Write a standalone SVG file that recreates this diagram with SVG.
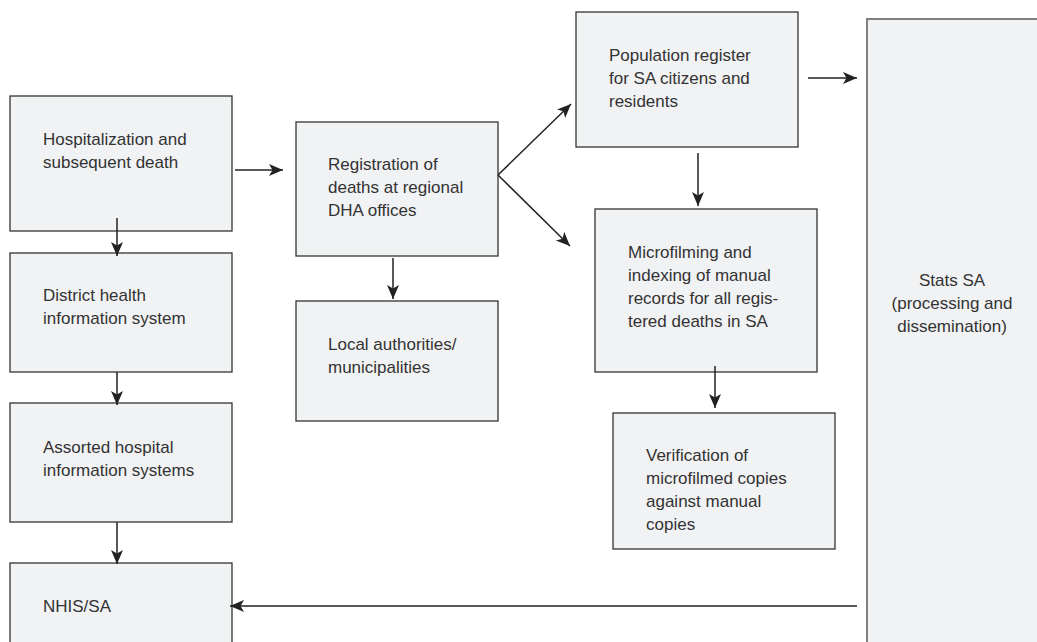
<svg xmlns="http://www.w3.org/2000/svg" width="1037" height="642" viewBox="0 0 1037 642">
<style>
.box{fill:#f1f2f4;stroke:#333;stroke-width:1.3}
.stats{fill:#f1f2f4;stroke:#808080;stroke-width:2}
.t{font-family:"Liberation Sans",Arial,sans-serif;font-size:17px;fill:#333}
.c{fill:none;stroke:#222;stroke-width:1.5}
</style>
<defs>
<marker id="ah" markerUnits="userSpaceOnUse" markerWidth="16" markerHeight="13" refX="14" refY="6" orient="auto">
<path d="M0,0 L14,6 L0,12 L3.5,6 Z" fill="#222"/>
</marker>
</defs>
<rect width="1037" height="642" fill="#fff"/>
<g id="hosp"><rect class="box" x="10" y="96" width="222" height="135"/>
<text class="t" x="43" y="145">Hospitalization and</text><text class="t" x="43" y="168">subsequent death</text></g>
<g id="district"><rect class="box" x="10" y="253" width="222" height="119"/>
<text class="t" x="43" y="301">District health</text><text class="t" x="43" y="324">information system</text></g>
<g id="assorted"><rect class="box" x="10" y="403" width="222" height="119"/>
<text class="t" x="43" y="453">Assorted hospital</text><text class="t" x="43" y="476">information systems</text></g>
<g id="nhis"><rect class="box" x="10" y="563" width="222" height="90"/>
<text class="t" x="43" y="612">NHIS/SA</text></g>
<g id="registration"><rect class="box" x="296" y="122" width="202" height="134"/>
<text class="t" x="328" y="170">Registration of</text><text class="t" x="328" y="193">deaths at regional</text><text class="t" x="328" y="216">DHA offices</text></g>
<g id="local"><rect class="box" x="296" y="301" width="202" height="120"/>
<text class="t" x="328" y="350">Local authorities/</text><text class="t" x="328" y="373">municipalities</text></g>
<g id="population"><rect class="box" x="576" y="12" width="222" height="135"/>
<text class="t" x="609" y="61">Population register</text><text class="t" x="609" y="84">for SA citizens and</text><text class="t" x="609" y="107">residents</text></g>
<g id="microfilming"><rect class="box" x="595" y="209" width="222" height="163"/>
<text class="t" x="628" y="258">Microfilming and</text><text class="t" x="628" y="281">indexing of manual</text><text class="t" x="628" y="304">records for all regis-</text><text class="t" x="628" y="327">tered deaths in SA</text></g>
<g id="verification"><rect class="box" x="613" y="413" width="222" height="136"/>
<text class="t" x="646" y="461">Verification of</text><text class="t" x="646" y="484">microfilmed copies</text><text class="t" x="646" y="507">against manual</text><text class="t" x="646" y="530">copies</text></g>
<g id="stats"><rect class="stats" x="867" y="19" width="220" height="640"/>
<text class="t" x="952" y="286" text-anchor="middle">Stats SA</text><text class="t" x="952" y="309" text-anchor="middle">(processing and</text><text class="t" x="952" y="332" text-anchor="middle">dissemination)</text></g>
<g id="connectors">
<line class="c" x1="235" y1="170" x2="283" y2="170" marker-end="url(#ah)"/>
<line class="c" x1="117" y1="218" x2="117" y2="256" marker-end="url(#ah)"/>
<line class="c" x1="117" y1="372" x2="117" y2="405" marker-end="url(#ah)"/>
<line class="c" x1="117" y1="522" x2="117" y2="564" marker-end="url(#ah)"/>
<line class="c" x1="393" y1="258" x2="393" y2="299" marker-end="url(#ah)"/>
<line class="c" x1="498" y1="175" x2="571" y2="104" marker-end="url(#ah)"/>
<line class="c" x1="498" y1="175" x2="570" y2="246" marker-end="url(#ah)"/>
<line class="c" x1="698" y1="153" x2="698" y2="206" marker-end="url(#ah)"/>
<line class="c" x1="715" y1="366" x2="715" y2="408" marker-end="url(#ah)"/>
<line class="c" x1="808" y1="78" x2="857" y2="78" marker-end="url(#ah)"/>
<line class="c" x1="857" y1="606" x2="230" y2="606" marker-end="url(#ah)"/>
</g>
</svg>
